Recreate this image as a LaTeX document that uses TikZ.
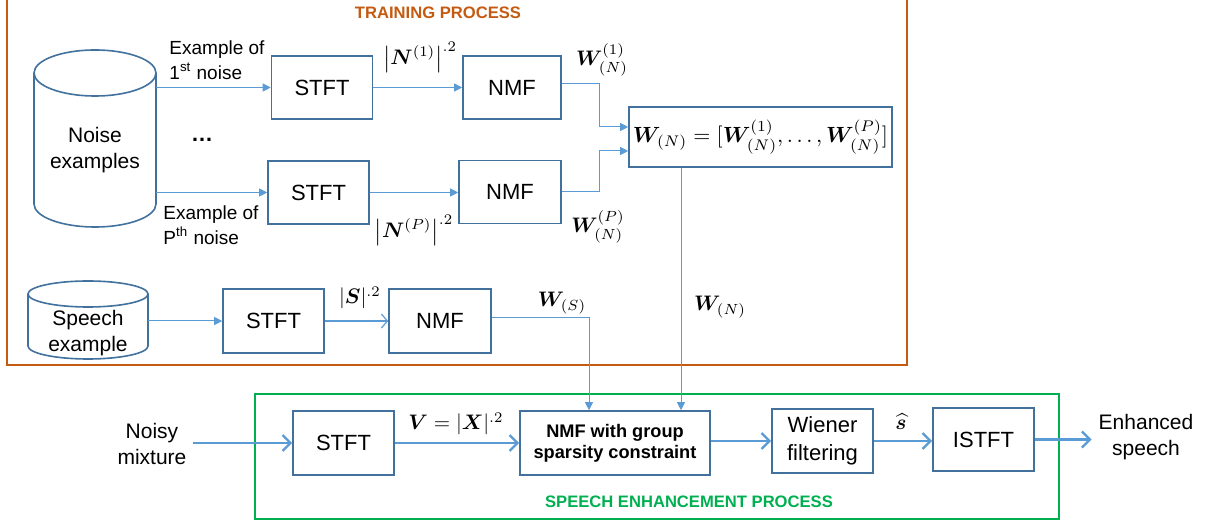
\RequirePackage{fix-cm}
\documentclass[tikz,border=0pt]{standalone}
\usepackage[no-math]{fontspec}
\setmainfont{Liberation Sans}
\usepackage{amsmath,bm}
\usetikzlibrary{arrows.meta, positioning}

\definecolor{boxblue}{RGB}{65,113,156}
\definecolor{lineblue}{RGB}{91,155,213}
\definecolor{trainorange}{RGB}{197,90,17}
\definecolor{enhgreen}{RGB}{0,176,80}

\begin{document}
\begin{tikzpicture}[x=0.5pt, y=-0.5pt,
    blk/.style={draw=boxblue, line width=0.8pt, inner sep=0pt, minimum width=50.5pt, minimum height=31.5pt, align=center, font=\fontsize{11}{14}\selectfont},
    cyl/.style={draw=boxblue, line width=0.8pt},
    txt/.style={align=center, font=\fontsize{10.5}{13}\selectfont},
    small/.style={align=left, font=\fontsize{9.5}{12.5}\selectfont},
    mth/.style={font=\fontsize{10.5}{12}\selectfont},
    ttl/.style={font=\fontsize{8.3}{10}\selectfont\bfseries},
    feed/.style={draw=lineblue, line width=0.5pt, -{Triangle[length=4pt, width=4pt]}},
    openfeed/.style={draw=lineblue, line width=0.6pt, -{Straight Barb[length=3pt, width=7pt]}},
    flow/.style={draw=lineblue, line width=1.2pt, -{Straight Barb[length=4pt, width=8pt]}}
]

\useasboundingbox (0,0) rectangle (1205,523);

% training process frame (top edge is cut off)
\draw[trainorange, line width=0.9pt] (7,0) -- (7,365) -- (907,365) -- (907,0);
\node[ttl, text=trainorange] (trainttl) at (438,13) {TRAINING PROCESS};

% noise examples database
\node[txt, minimum width=61pt, inner sep=0pt] (noise) at (95,150) {Noise\\examples};
\draw[cyl] ([yshift=38.5pt]noise.center) ellipse [x radius=30.5pt, y radius=11.5pt];
\draw[cyl] ([shift={(-30.5pt,38.5pt)}]noise.center) -- ([shift={(-30.5pt,-27pt)}]noise.center)
    arc[start angle=180, end angle=360, x radius=30.5pt, y radius=11.5pt] -- ([shift={(30.5pt,38.5pt)}]noise.center);

% first noise branch
\node[small] (exA) at (217,60) {Example of\\1\textsuperscript{st} noise};
\node[blk] (stftA) at (322,87.5) {STFT};
\node[blk, minimum width=49pt] (nmfA) at (512,87.5) {NMF};
\node[mth] (nAlbl) at (420,57) {$\left|\bm{N}^{(1)}\right|^{.2}$};
\node[mth] (wAlbl) at (602,60) {$\bm{W}^{(1)}_{(N)}$};
\draw[feed] (noise.east |- stftA) -- (stftA);
\draw[feed] (stftA) -- (nmfA);

\node[font=\bfseries\fontsize{11}{13}\selectfont] (dots) at (202,140) {\dots};

% last noise branch
\node[small] (exP) at (211,225) {Example of\\P\textsuperscript{th} noise};
\node[blk] (stftB) at (318.5,192.5) {STFT};
\node[blk, minimum width=51pt] (nmfB) at (510,192) {NMF};
\node[mth] (nPlbl) at (414,230) {$\left|\bm{N}^{(P)}\right|^{.2}$};
\node[mth] (wPlbl) at (598,227) {$\bm{W}^{(P)}_{(N)}$};
\draw[feed] (noise.east |- stftB) -- (stftB);
\draw[feed] (stftB.east) -- (stftB.east -| nmfB.west);

% stacked noise dictionary
\node[blk, minimum width=131.5pt, minimum height=30pt] (wn) at (760.5,137)
    {$\bm{W}_{(N)}=[\bm{W}^{(1)}_{(N)},\dots,\bm{W}^{(P)}_{(N)}]$};
\draw[feed] ([yshift=1.75pt]nmfA.east) -- ++(38,0) |- ([yshift=5pt]wn.west);
\draw[feed] (nmfB.east) -- ++(38,0) |- ([yshift=-7pt]wn.west);

% speech example branch
\node[txt, minimum width=60pt, inner sep=0pt] (speech) at (88,333) {Speech\\example};
\draw[cyl] ([yshift=19.5pt]speech.center) ellipse [x radius=30pt, y radius=6.5pt];
\draw[cyl] ([shift={(-30pt,19.5pt)}]speech.center) -- ([shift={(-30pt,-6.5pt)}]speech.center)
    arc[start angle=180, end angle=360, x radius=30pt, y radius=6.5pt] -- ([shift={(30pt,19.5pt)}]speech.center);
\node[blk, minimum height=32pt] (stftS) at (273.5,321) {STFT};
\node[blk, minimum width=51pt, minimum height=32pt] (nmfS) at (440,321) {NMF};
\node[mth] (slbl) at (360,298) {$|\bm{S}|^{.2}$};
\node[mth] (wSlbl) at (562,303) {$\bm{W}_{(S)}$};
\node[mth] (wNlbl) at (720,307) {$\bm{W}_{(N)}$};
\draw[feed] (speech.east |- stftS) -- (stftS);
\draw[openfeed] (stftS) -- (nmfS);

% speech enhancement process
\draw[enhgreen, line width=0.9pt] (255,394) rectangle (1059,519);
\node[ttl, text=enhgreen] (enhttl) at (689,502) {SPEECH ENHANCEMENT PROCESS};

\node[txt] (noisy) at (152,444) {Noisy\\mixture};
\node[blk, minimum height=32pt] (stftX) at (343.5,443) {STFT};
\node[blk, minimum width=95pt, minimum height=32pt, font=\bfseries\fontsize{9.1}{10.5}\selectfont] (nmfG) at (615,443)
    {NMF with group\\sparsity constraint};
\node[blk, minimum height=32pt] (wiener) at (822.5,441) {Wiener\\filtering};
\node[blk] (istft) at (983.5,439.5) {ISTFT};
\node[txt] (enh) at (1146,437) {Enhanced\\speech};
\node[mth] (vlbl) at (456,424) {$\bm{V}=|\bm{X}|^{.2}$};
\node[mth] (shat) at (901,422) {$\widehat{\bm{s}}$};

\draw[flow] (noisy.east |- stftX) -- (stftX);
\draw[flow] (stftX) -- (nmfG);
\draw[flow] (nmfG.east |- wiener) -- (wiener);
\draw[flow] (wiener.east) -- (wiener.east -| istft.west);
\draw[flow] (istft.east) -- (istft.east -| enh.west);

% dictionaries into the group sparsity NMF
\draw[feed] ([yshift=1.5pt]nmfS.east) -| ([xshift=-13pt]nmfG.north);
\draw[feed] ([xshift=-39.75pt]wn.south) -- ([xshift=-39.75pt]wn.south |- nmfG.north);

\end{tikzpicture}
\end{document}
